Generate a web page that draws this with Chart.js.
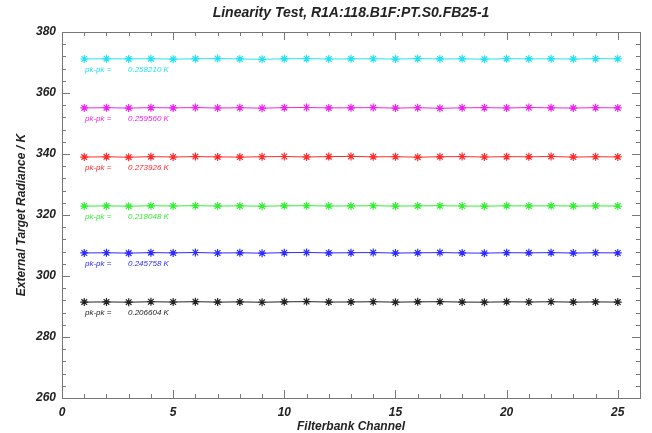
<!DOCTYPE html>
<html>
<head>
<meta charset="utf-8">
<script src="https://cdn.jsdelivr.net/npm/chart.js@4"></script>
<style>
  html, body { margin: 0; padding: 0; background: #fff; }
  #c { display: block; }
</style>
</head>
<body>
<canvas id="c" width="652" height="433"></canvas>
<script>
// channels 1..25
const channels = [1, 2, 3, 4, 5, 6, 7, 8, 9, 10, 11, 12, 13, 14, 15, 16, 17, 18, 19, 20, 21, 22, 23, 24, 25];

const cyanVals = [371.15, 371.22, 371.18, 371.25, 371.10, 371.20, 371.28, 371.17, 371.05, 371.21, 371.26, 371.14, 371.19, 371.23, 371.12, 371.27, 371.16, 371.20, 371.09, 371.24, 371.18, 371.22, 371.13, 371.26, 371.20];
const magentaVals = [355.10, 355.18, 355.05, 355.20, 355.12, 355.22, 355.08, 355.16, 355.03, 355.19, 355.25, 355.11, 355.15, 355.21, 355.06, 355.17, 354.99, 355.13, 355.20, 355.09, 355.23, 355.14, 355.07, 355.18, 355.12];
const redVals = [339.00, 339.08, 338.95, 339.12, 339.02, 339.15, 339.05, 338.98, 339.10, 339.18, 339.03, 339.14, 339.22, 339.06, 339.11, 338.96, 339.09, 339.16, 339.01, 339.13, 339.07, 339.19, 338.99, 339.10, 339.04];
const greenVals = [322.92, 322.98, 322.90, 323.02, 322.95, 323.05, 322.93, 322.99, 322.88, 323.00, 323.06, 322.94, 322.97, 323.03, 322.91, 322.99, 323.04, 322.95, 322.89, 323.01, 322.96, 323.02, 322.93, 322.98, 322.94];
const blueVals = [307.55, 307.62, 307.50, 307.66, 307.58, 307.70, 307.54, 307.61, 307.48, 307.65, 307.72, 307.57, 307.63, 307.69, 307.52, 307.60, 307.67, 307.56, 307.49, 307.64, 307.59, 307.66, 307.53, 307.62, 307.57];
const blackVals = [291.45, 291.50, 291.42, 291.55, 291.47, 291.58, 291.44, 291.51, 291.40, 291.53, 291.60, 291.46, 291.49, 291.56, 291.43, 291.52, 291.57, 291.45, 291.41, 291.54, 291.48, 291.55, 291.44, 291.50, 291.46];

const seriesColors = ['#22e2f2', '#ee22ee', '#ff2a2a', '#33ee33', '#2b2bff', '#222222'];
const pkpkText = ['0.258210 K', '0.259560 K', '0.273926 K', '0.218048 K', '0.245758 K', '0.206604 K'];

const yTicks = [260, 280, 300, 320, 340, 360, 380];
const xTickLabels = [0, 5, 10, 15, 20, 25];

const allVals = [cyanVals, magentaVals, redVals, greenVals, blueVals, blackVals];
const boldItalic = 'bold italic 12px "Liberation Sans", Arial, sans-serif';

const datasets = allVals.map((vals, i) => ({
    data: vals.map((v, k) => ({ x: channels[k], y: v })),
    borderColor: seriesColors[i],
    backgroundColor: seriesColors[i],
    borderWidth: 1,
    pointStyle: 'star',
    pointRadius: 4,
    pointBorderWidth: 1.2,
    pointHoverRadius: 4,
    tension: 0,
}));

// IDL-style box with inward ticks, pk-pk notes and titles
const framePlugin = {
    id: 'frame',
    afterDraw(chart) {
        const { ctx, chartArea: a, scales } = chart;
        const xs = scales.x, ys = scales.y;
        ctx.save();
        ctx.strokeStyle = '#777';
        ctx.lineWidth = 1;
        ctx.strokeRect(a.left + 0.5, a.top + 0.5, a.right - a.left, a.bottom - a.top);

        ctx.beginPath();
        for (let v = 0; v <= 26; v++) {
            const px = Math.round(xs.getPixelForValue(v)) + 0.5;
            const len = v % 5 === 0 ? 8 : 4;
            ctx.moveTo(px, a.bottom); ctx.lineTo(px, a.bottom - len);
            ctx.moveTo(px, a.top); ctx.lineTo(px, a.top + len);
        }
        for (let v = 260; v <= 380; v += 4) {
            const py = Math.round(ys.getPixelForValue(v)) + 0.5;
            const len = v % 20 === 0 ? 8 : 4;
            ctx.moveTo(a.left, py); ctx.lineTo(a.left + len, py);
            ctx.moveTo(a.right, py); ctx.lineTo(a.right - len, py);
        }
        ctx.stroke();

        // pk-pk notes under each trace
        ctx.font = 'italic 8px "Liberation Sans", Arial, sans-serif';
        ctx.textBaseline = 'middle';
        allVals.forEach((vals, i) => {
            const y = ys.getPixelForValue(vals[0]) + 11;
            ctx.fillStyle = seriesColors[i];
            ctx.fillText('pk-pk =', 85, y);
            ctx.fillText(pkpkText[i], 128, y);
        });

        ctx.fillStyle = '#222';
        ctx.textAlign = 'center';
        ctx.font = 'bold italic 14px "Liberation Sans", Arial, sans-serif';
        ctx.fillText('Linearity Test, R1A:118.B1F:PT.S0.FB25-1', (a.left + a.right) / 2, 13);
        ctx.font = boldItalic;
        ctx.fillText('Filterbank Channel', (a.left + a.right) / 2, 427);
        ctx.translate(22, (a.top + a.bottom) / 2);
        ctx.rotate(-Math.PI / 2);
        ctx.fillText('External Target Radiance / K', 0, 0);
        ctx.restore();
    }
};

new Chart(document.getElementById('c'), {
    type: 'line',
    data: { datasets },
    options: {
        responsive: false,
        animation: false,
        layout: { padding: { left: 0, top: 32, right: 12, bottom: 0 } },
        plugins: { legend: { display: false }, title: { display: false }, tooltip: { enabled: false } },
        scales: {
            x: {
                type: 'linear',
                min: 0,
                max: 26,
                grid: { display: false, drawTicks: false },
                border: { display: false },
                afterFit: (s) => { s.height = 35; },
                afterBuildTicks: (s) => { s.ticks = xTickLabels.map(v => ({ value: v })); },
                ticks: { padding: 7, color: '#222', font: { family: '"Liberation Sans", Arial, sans-serif', size: 12, weight: 'bold', style: 'italic' }, maxRotation: 0, autoSkip: false },
            },
            y: {
                min: 260,
                max: 380,
                grid: { display: false, drawTicks: false },
                border: { display: false },
                afterFit: (s) => { s.width = 62; },
                afterBuildTicks: (s) => { s.ticks = yTicks.map(v => ({ value: v })); },
                ticks: { padding: 6, color: '#222', font: { family: '"Liberation Sans", Arial, sans-serif', size: 12, weight: 'bold', style: 'italic' } },
            },
        },
    },
    plugins: [framePlugin],
});
</script>
</body>
</html>
